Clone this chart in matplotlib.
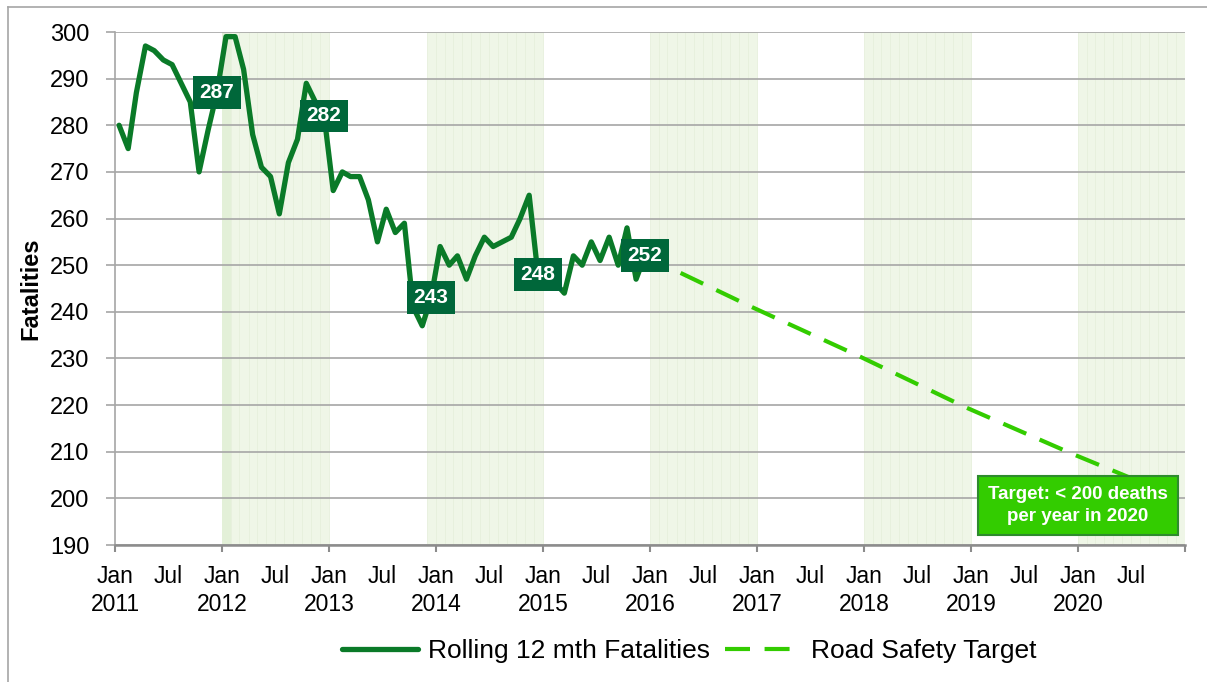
import matplotlib
matplotlib.use('Agg')
import matplotlib.pyplot as plt
import matplotlib.dates as mdates
import pandas as pd
from matplotlib.lines import Line2D

plt.rcParams['font.family'] = ['Liberation Sans', 'DejaVu Sans']

# rolling 12 month fatalities, one value per month from Jan 2011
fatalities = [280, 275, 287, 297, 296, 294, 293, 289, 285, 270, 279, 287,
              299, 299, 292, 278, 271, 269, 261, 272, 277, 289, 285, 282,
              266, 270, 269, 269, 264, 255, 262, 257, 259, 241, 237, 243,
              254, 250, 252, 247, 252, 256, 254, 255, 256, 260, 265, 248,
              248, 246, 244, 252, 250, 255, 251, 256, 250, 258, 247, 252]
first_month = '2011-01-01'
label_months = ['2011-12', '2012-12', '2013-12', '2014-12', '2015-12']

target_dates = ['2015-12-15', '2016-12-15', '2017-12-15',
                '2018-12-15', '2019-12-15', '2020-12-15']
target_vals = [252, 241, 230.5, 219.5, 209.5, 200]

shade_start = ['2012-01-01', '2013-12-01', '2016-01-01', '2018-01-01', '2020-01-01']
shade_len = [12, 13, 12, 12, 12]

years = list(range(2011, 2021))

line_col = '#0A7A28'
target_col = '#33CC00'
box_col = '#00673A'
band_col = '#EFF6E7'
grid_col = '#A6A6A6'

fig = plt.figure(figsize=(12.07, 6.82), dpi=100)
ax = fig.add_axes([115 / 1207, 137 / 682, 1070 / 1207, 513 / 682])

# shaded year columns
for start, n in zip(shade_start, shade_len):
    m = pd.date_range(start, periods=n + 1, freq='MS')
    x = mdates.date2num(m)
    w = x[1:] - x[:-1]
    ax.bar(x[:-1], 110, bottom=190, width=w, align='edge', color=band_col,
           edgecolor='#E7F0DD', linewidth=0.6, zorder=0.5)
jan12 = mdates.date2num(pd.to_datetime(['2012-01-01', '2012-02-01']))
ax.bar(jan12[0], 110, bottom=190, width=jan12[1] - jan12[0], align='edge',
       color='#E3F0D8', linewidth=0, zorder=0.6)

months = pd.date_range(first_month, periods=len(fatalities), freq='MS') + pd.Timedelta(days=14)
mx = mdates.date2num(months)
ax.plot(mx, fatalities, color=line_col, lw=3.8, solid_joinstyle='round',
        solid_capstyle='round', zorder=3)

tx = mdates.date2num(pd.to_datetime(target_dates))
ax.plot(tx, target_vals, color=target_col, lw=3, dashes=(6, 3.5), zorder=2.5)

# yearly labels
series = pd.Series(fatalities, index=months.strftime('%Y-%m'))
for lm in label_months:
    v = series[lm]
    x = mdates.date2num(pd.Timestamp(lm + '-15'))
    ax.text(x, v, str(v), ha='center', va='center', color='white',
            fontsize=15, fontweight='bold', zorder=5,
            bbox=dict(boxstyle='square,pad=0.33', fc=box_col, ec='none'))

ax.text(mdates.date2num(pd.Timestamp('2020-01-01')), 198.5,
        'Target: < 200 deaths\nper year in 2020', ha='center', va='center',
        color='white', fontsize=13.5, fontweight='bold', linespacing=1.35,
        zorder=5,
        bbox=dict(boxstyle='square,pad=0.55', fc=target_col, ec='#2E8B2E', lw=1.5))

ax.set_ylim(190, 300)
ax.set_yticks(range(190, 301, 10))
ax.set_xlim(mdates.date2num(pd.Timestamp('2011-01-01')),
            mdates.date2num(pd.Timestamp('2021-01-01')))

jan = mdates.date2num(pd.to_datetime([f'{y}-01-01' for y in years + [2021]]))
jul = mdates.date2num(pd.to_datetime([f'{y}-07-01' for y in years]))
ax.set_xticks(jan)
ax.set_xticklabels([f'Jan\n{y}' for y in years] + [''])
ax.set_xticks(jul, minor=True)
ax.set_xticklabels(['Jul'] * len(jul), minor=True)
for lab in ax.get_xticklabels():
    lab.set_linespacing(1.3)

ax.tick_params(axis='x', which='major', length=5, width=1.5, color='#8C8C8C',
               pad=9.4, labelsize=16.5)
ax.tick_params(axis='x', which='minor', length=0, pad=14.4, labelsize=16.5)
ax.tick_params(axis='y', length=6.5, width=1.2, color=grid_col, pad=12,
               labelsize=17)

ax.grid(axis='y', color=grid_col, lw=1.2)
ax.set_axisbelow('line')
for s in ['top', 'right']:
    ax.spines[s].set_visible(False)
ax.spines['left'].set_color(grid_col)
ax.spines['left'].set_linewidth(1.2)
ax.spines['bottom'].set_color('#8C8C8C')
ax.spines['bottom'].set_linewidth(1.8)

ax.set_ylabel('Fatalities', fontsize=17, fontweight='bold')
ax.yaxis.set_label_coords(-0.068, 0.5)

handles = [Line2D([0], [0], color=line_col, lw=3.8, solid_capstyle='round'),
           Line2D([0], [0], color=target_col, lw=3, dashes=(6, 3.5))]
fig.legend(handles, ['Rolling 12 mth Fatalities', 'Road Safety Target'],
           loc='center', bbox_to_anchor=(0.571, 0.045), ncol=2, frameon=False,
           fontsize=19, handlelength=2.9, handletextpad=0.35, columnspacing=0.6)

# outer chart frame (only left and top visible)
fig.add_artist(Line2D([8 / 1207, 8 / 1207], [0, 1 - 7 / 682],
                      transform=fig.transFigure, color='#A6A6A6', lw=1.2))
fig.add_artist(Line2D([8 / 1207, 1], [1 - 7 / 682, 1 - 7 / 682],
                      transform=fig.transFigure, color='#A6A6A6', lw=1.2))

fig.savefig('out.png', dpi=100)
